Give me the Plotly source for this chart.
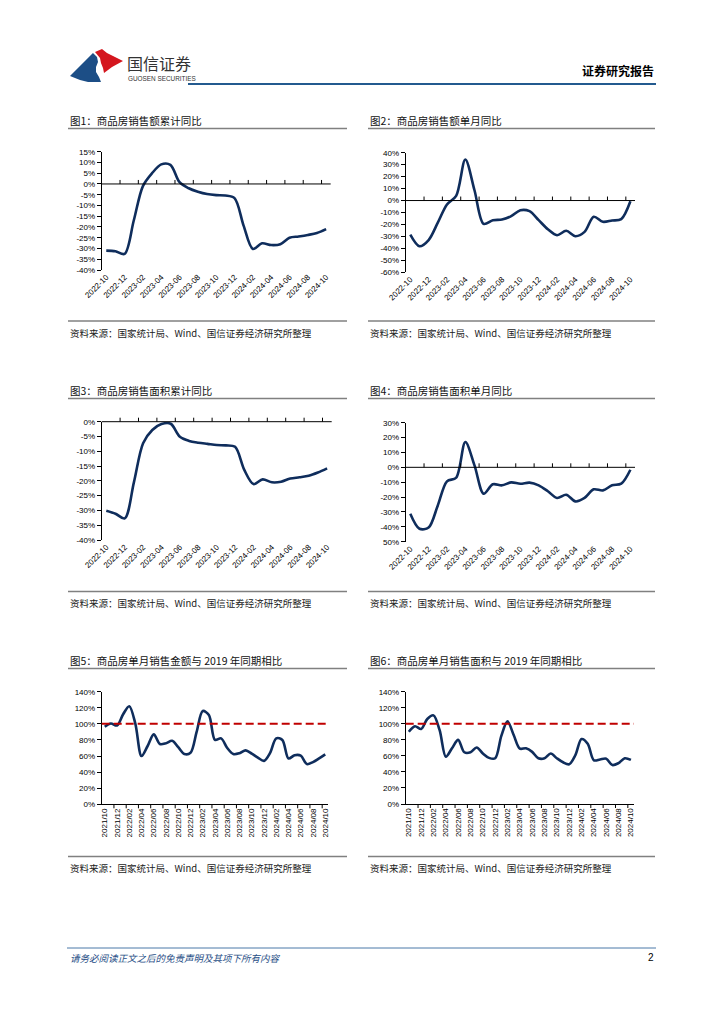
import plotly.graph_objects as go

W, H = 724, 1024
FONT_CJK = "Noto Sans CJK SC"
FONT_NUM = "Liberation Sans"
LINE_COLOR = "#0F2D5C"
REF_COLOR = "#C00000"

# ---------------- data ----------------
months_a = ["2022-10", "2022-11", "2022-12", "2023-01", "2023-02", "2023-03", "2023-04",
            "2023-05", "2023-06", "2023-07", "2023-08", "2023-09", "2023-10", "2023-11",
            "2023-12", "2024-01", "2024-02", "2024-03", "2024-04", "2024-05", "2024-06",
            "2024-07", "2024-08", "2024-09", "2024-10"]

months_b = ["2021/10", "2021/11", "2021/12", "2022/01", "2022/02", "2022/03", "2022/04",
            "2022/05", "2022/06", "2022/07", "2022/08", "2022/09", "2022/10", "2022/11",
            "2022/12", "2023/01", "2023/02", "2023/03", "2023/04", "2023/05", "2023/06",
            "2023/07", "2023/08", "2023/09", "2023/10", "2023/11", "2023/12", "2024/01",
            "2024/02", "2024/03", "2024/04", "2024/05", "2024/06", "2024/07", "2024/08",
            "2024/09", "2024/10"]

# 图1 商品房销售额累计同比 (%)
sales_cum_yoy = [-31.0, -31.3, -32.5, -17.0, -1.0, 5.0, 9.1, 8.9, 0.8, -2.0, -3.6, -4.7, -5.2,
                 -5.4, -6.6, -19.5, -30.2, -27.6, -28.4, -28.0, -25.0, -24.4, -23.7, -22.8, -21.0]
# 图2 商品房销售额单月同比 (%)
sales_mon_yoy = [-28.5, -38.2, -33.0, -18.5, -3.3, 3.9, 34.3, 8.6, -19.5, -16.4, -15.9, -13.1,
                 -8.1, -8.9, -16.4, -24.0, -29.0, -25.3, -29.8, -26.2, -13.6, -17.8, -16.7,
                 -15.5, -0.6]
# 图3 商品房销售面积累计同比 (%)
area_cum_yoy = [-30.1, -31.1, -32.7, -20.5, -7.3, -2.8, -0.8, -0.7, -5.1, -6.5, -7.1, -7.5,
                -7.9, -8.0, -8.5, -16.3, -21.1, -19.5, -20.5, -20.3, -19.2, -18.8, -18.3,
                -17.2, -15.8]
# 图4 商品房销售面积单月同比 (%)
area_mon_yoy = [-31.2, -41.3, -40.5, -25.6, -9.4, -7.0, 17.0, 1.3, -17.7, -11.4, -12.1, -10.1,
                -11.0, -10.3, -12.1, -16.1, -20.6, -18.4, -22.9, -20.6, -14.8, -15.5, -12.1,
                -11.0, -1.6]
# 图5 商品房单月销售金额与2019年同期相比 (%)
sales_vs_2019 = [96.5, 100.5, 98.0, 112.0, 122.0, 100.0, 60.0, 72.5, 87.0, 75.0, 76.0, 79.0,
                 71.0, 62.5, 64.0, 90.0, 116.0, 111.0, 80.0, 82.0, 70.0, 62.5, 63.5, 67.0,
                 63.0, 58.0, 54.0, 64.0, 82.0, 80.0, 57.0, 61.0, 60.5, 50.0, 52.5, 57.0, 62.0]
# 图6 商品房单月销售面积与2019年同期相比 (%)
area_vs_2019 = [90.0, 97.0, 93.5, 106.0, 110.5, 92.0, 59.0, 69.5, 80.0, 64.5, 64.5, 70.5,
                63.0, 57.5, 57.0, 85.0, 103.0, 86.0, 69.0, 69.5, 65.0, 57.0, 57.0, 63.0,
                57.0, 52.0, 49.5, 61.0, 81.0, 75.0, 54.5, 55.5, 56.5, 48.5, 51.0, 57.0, 55.0]
ref_level = 100

# y tick values / labels
yt1 = [15, 10, 5, 0, -5, -10, -15, -20, -25, -30, -35, -40]
yl1 = ["15%", "10%", "5%", "0%", "-5%", "-10%", "-15%", "-20%", "-25%", "-30%", "-35%", "-40%"]
yt2 = [40, 30, 20, 10, 0, -10, -20, -30, -40, -50, -60]
yl2 = ["40%", "30%", "20%", "10%", "0%", "-10%", "-20%", "-30%", "-40%", "-50%", "-60%"]
yt3 = [0, -5, -10, -15, -20, -25, -30, -35, -40]
yl3 = ["0%", "-5%", "-10%", "-15%", "-20%", "-25%", "-30%", "-35%", "-40%"]
yt4 = [30, 20, 10, 0, -10, -20, -30, -40, -50]
yl4 = ["30%", "20%", "10%", "0%", "-10%", "-20%", "-30%", "-40%", "50%"]
yt5 = [140, 120, 100, 80, 60, 40, 20, 0]
yl5 = ["140%", "120%", "100%", "80%", "60%", "40%", "20%", "0%"]

titles = ["图1：商品房销售额累计同比", "图2：商品房销售额单月同比",
          "图3：商品房销售面积累计同比", "图4：商品房销售面积单月同比",
          "图5：商品房单月销售金额与 2019 年同期相比", "图6：商品房单月销售面积与 2019 年同期相比"]
source_text = "资料来源：国家统计局、Wind、国信证券经济研究所整理"

# ---------------- layout helpers ----------------
def px(x):
    return x / W


def py(y):
    return 1 - y / H


COLS = [(68, 347), (368, 655)]
ROWS = [dict(title=120, under=128.5, srcline=321, src=333),
        dict(title=390, under=398.5, srcline=591.5, src=603),
        dict(title=660, under=668.5, srcline=856.5, src=868)]

panels = [
    dict(cats=months_a, vals=sales_cum_yoy, yt=yt1, yl=yl1, box=(101.7, 151.7, 330.7, 270.0), col=0, row=0, mode="zero", angle=-45),
    dict(cats=months_a, vals=sales_mon_yoy, yt=yt2, yl=yl2, box=(405.7, 152.7, 635.0, 272.3), col=1, row=0, mode="zero", angle=-45),
    dict(cats=months_a, vals=area_cum_yoy, yt=yt3, yl=yl3, box=(101.7, 421.7, 331.7, 540.0), col=0, row=1, mode="zero", angle=-45),
    dict(cats=months_a, vals=area_mon_yoy, yt=yt4, yl=yl4, box=(405.7, 422.7, 635.0, 541.7), col=1, row=1, mode="zero", angle=-45),
    dict(cats=months_b, vals=sales_vs_2019, yt=yt5, yl=yl5, box=(101.7, 691.7, 328.3, 804.3), col=0, row=2, mode="bottom", angle=-90),
    dict(cats=months_b, vals=area_vs_2019, yt=yt5, yl=yl5, box=(405.7, 691.7, 634.0, 804.0), col=1, row=2, mode="bottom", angle=-90),
]

fig = go.Figure()
shapes = []
annotations = []
axes = {}

for i, p in enumerate(panels):
    n = i + 1
    sfx = "" if n == 1 else str(n)
    xname, yname = "x" + sfx, "y" + sfx
    l, t, r, b = p["box"]
    ymin, ymax = min(p["yt"]), max(p["yt"])
    ncat = len(p["cats"])

    if p["mode"] == "bottom":
        shapes.append(dict(type="line", xref=xname + " domain", yref=yname, x0=0, x1=1,
                           y0=ref_level, y1=ref_level, layer="above",
                           line=dict(color=REF_COLOR, width=2, dash="8px,4px")))

    fig.add_trace(go.Scatter(x=p["cats"], y=p["vals"], mode="lines",
                             line=dict(color=LINE_COLOR, width=2.6, shape="spline", smoothing=0.9),
                             xaxis=xname, yaxis=yname, showlegend=False, hoverinfo="skip"))

    axes["xaxis" + sfx] = dict(
        domain=[px(l), px(r)], anchor=yname, type="category", range=[-0.5, ncat - 0.5],
        tickmode="array", tickvals=p["cats"][::2], ticktext=p["cats"][::2],
        tickangle=p["angle"], tickfont=dict(family=FONT_NUM, size=8, color="#000"),
        showline=(p["mode"] == "bottom"), linecolor="#000", linewidth=1,
        ticks="", showgrid=False, zeroline=False, fixedrange=True, automargin=False)
    axes["yaxis" + sfx] = dict(
        domain=[py(b), py(t)], anchor=xname, range=[ymin, ymax],
        tickmode="array", tickvals=p["yt"], ticktext=p["yl"],
        tickfont=dict(family=FONT_NUM, size=8, color="#000"),
        ticks="outside", ticklen=4, tickcolor="#000", tickwidth=1,
        showline=True, linecolor="#000", linewidth=1,
        showgrid=False, zeroline=False, fixedrange=True, automargin=False)

    # category axis line + tick marks between categories
    if p["mode"] == "zero":
        yz = py(b) + (0 - ymin) / (ymax - ymin) * (py(t) - py(b))
        shapes.append(dict(type="line", xref="paper", yref="paper", x0=px(l), x1=px(r),
                           y0=yz, y1=yz, line=dict(color="#000", width=1)))
        ty0, ty1 = yz, yz + 4 / H
    else:
        ty0, ty1 = py(b), py(b) - 4 / H
    for k in range(2, ncat, 2):
        shapes.append(dict(type="line", xref=xname, yref="paper", x0=k - 0.5, x1=k - 0.5,
                           y0=ty0, y1=ty1, line=dict(color="#000", width=1)))

    # frame: title, rules, source
    cl, cr = COLS[p["col"]]
    rw = ROWS[p["row"]]
    annotations.append(dict(text=titles[i], xref="paper", yref="paper", x=px(cl), y=py(rw["title"]),
                            xanchor="left", yanchor="middle", showarrow=False,
                            font=dict(family=FONT_CJK, size=10.5, color="#111111")))
    annotations.append(dict(text=source_text, xref="paper", yref="paper", x=px(cl), y=py(rw["src"]),
                            xanchor="left", yanchor="middle", showarrow=False,
                            font=dict(family=FONT_CJK, size=9.5, color="#1a1a1a")))
    for yy in (rw["under"], rw["srcline"]):
        shapes.append(dict(type="line", xref="paper", yref="paper", x0=px(cl), x1=px(cr),
                           y0=py(yy), y1=py(yy), line=dict(color="#808080", width=1.5)))


# ---------------- header ----------------
def path_from(points, close=True):
    s = "M " + " L ".join(f"{px(x):.5f},{py(y):.5f}" for x, y in points)
    return s + (" Z" if close else "")


blue_logo = [(70, 76), (78, 68), (86, 60), (93, 53), (97, 57), (98, 62), (96, 67), (96, 72),
             (99, 77), (101, 82), (88, 82), (80, 80)]
red_logo = [(95, 52), (102, 49), (107, 53), (113, 56), (123, 61), (112, 67), (104, 73),
            (103, 68), (101, 63), (100, 58)]
shapes.append(dict(type="path", xref="paper", yref="paper", path=path_from(blue_logo),
                   fillcolor="#1C4E86", line=dict(width=0)))
shapes.append(dict(type="path", xref="paper", yref="paper", path=path_from(red_logo),
                   fillcolor="#D4161E", line=dict(width=0)))
annotations.append(dict(text="国信证券", xref="paper", yref="paper", x=px(125), y=py(62.5),
                        xanchor="left", yanchor="middle", showarrow=False,
                        font=dict(family=FONT_CJK, size=16, color="#333333")))
annotations.append(dict(text="GUOSEN SECURITIES", xref="paper", yref="paper", x=px(125.5), y=py(78.5),
                        xanchor="left", yanchor="middle", showarrow=False,
                        font=dict(family=FONT_NUM, size=6.4, color="#333333")))
annotations.append(dict(text="<b>证券研究报告</b>", xref="paper", yref="paper", x=px(656), y=py(70),
                        xanchor="right", yanchor="middle", showarrow=False,
                        font=dict(family=FONT_CJK, size=12, color="#000000")))
shapes.append(dict(type="line", xref="paper", yref="paper", x0=px(188), x1=px(656),
                   y0=py(84), y1=py(84), line=dict(color="#235A8F", width=2.2)))

# ---------------- footer ----------------
shapes.append(dict(type="line", xref="paper", yref="paper", x0=px(67), x1=px(656),
                   y0=py(948), y1=py(948), line=dict(color="#4A78A8", width=1)))
annotations.append(dict(text="<i>请务必阅读正文之后的免责声明及其项下所有内容</i>", xref="paper", yref="paper",
                        x=px(68), y=py(957.5), xanchor="left", yanchor="middle", showarrow=False,
                        font=dict(family=FONT_CJK, size=9.5, color="#1F4E86")))
annotations.append(dict(text="2", xref="paper", yref="paper", x=px(656), y=py(957.5),
                        xanchor="right", yanchor="middle", showarrow=False,
                        font=dict(family=FONT_NUM, size=10, color="#000")))

fig.update_layout(width=W, height=H, autosize=False, margin=dict(l=0, r=0, t=0, b=0, pad=0),
                  paper_bgcolor="white", plot_bgcolor="rgba(0,0,0,0)", showlegend=False,
                  font=dict(family=FONT_CJK), shapes=shapes, annotations=annotations, **axes)

fig.write_html("out.html", config={"displayModeBar": False, "staticPlot": True},
               post_script="document.body.style.margin='0';document.body.style.padding='0';"
                           "document.documentElement.style.overflow='hidden';")
